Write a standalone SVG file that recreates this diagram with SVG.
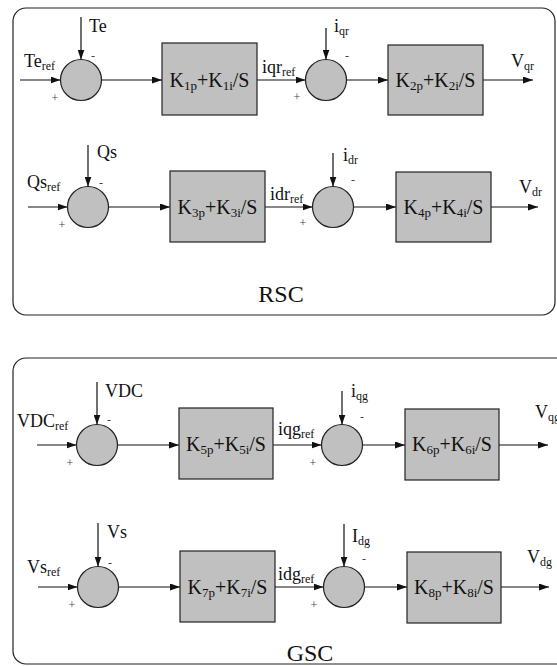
<svg xmlns="http://www.w3.org/2000/svg" width="557" height="666" viewBox="0 0 557 666" font-family="'Liberation Serif', 'DejaVu Serif', serif">
<style>
.frame{fill:none;stroke:#222;stroke-width:1.2}
.blk{fill:#c0c0c0;stroke:#222;stroke-width:1.2}
.sum{fill:#c0c0c0;stroke:#222;stroke-width:1.2}
.wire{fill:none;stroke:#111;stroke-width:1.2;marker-end:url(#ah)}
text{font-family:'Liberation Serif','DejaVu Serif',serif;fill:#111}
.bt{font-size:20px;text-anchor:middle}
.lb{font-size:18px}
.sub{font-size:12px}
.bsub{font-size:13px}
.sg{font-size:12px;fill:#444;text-anchor:middle}
.title{font-size:24px;text-anchor:middle}
</style>
<defs>
<marker id="ah" markerUnits="userSpaceOnUse" markerWidth="10" markerHeight="7" refX="10" refY="3.5" orient="auto">
<path d="M0,0 L10,3.5 L0,7 z" fill="#111"/>
</marker>
</defs>

<g id="rsc-frame">
<rect class="frame" x="13" y="8" width="542" height="307" rx="13"/>
<text class="title" x="281" y="302">RSC</text>
</g>
<g id="gsc-frame">
<rect class="frame" x="13" y="358" width="580" height="306" rx="13"/>
<text class="title" x="310" y="661">GSC</text>
</g>

<g id="connectors">
<path class="wire" d="M20,80 H60.5"/>
<path class="wire" d="M81,17 V59.5"/>
<path class="wire" d="M101.5,80 H162"/>
<path class="wire" d="M257,80 H305.5"/>
<path class="wire" d="M326,28 V59.5"/>
<path class="wire" d="M346.5,80 H388"/>
<path class="wire" d="M483,80 H533"/>

<path class="wire" d="M28,207 H67.5"/>
<path class="wire" d="M88,145 V186.5"/>
<path class="wire" d="M108.5,207 H170"/>
<path class="wire" d="M265,207 H312.5"/>
<path class="wire" d="M333,153 V186.5"/>
<path class="wire" d="M353.5,207 H396"/>
<path class="wire" d="M491,207 H538"/>

<path class="wire" d="M37,445 H76.5"/>
<path class="wire" d="M97,382 V424.5"/>
<path class="wire" d="M117.5,445 H179"/>
<path class="wire" d="M273,445 H321.5"/>
<path class="wire" d="M342,391 V424.5"/>
<path class="wire" d="M362.5,445 H405"/>
<path class="wire" d="M499,445 H548"/>

<path class="wire" d="M38,587 H77.5"/>
<path class="wire" d="M98,523 V566.5"/>
<path class="wire" d="M118.5,587 H180"/>
<path class="wire" d="M275,587 H323.5"/>
<path class="wire" d="M344,524 V566.5"/>
<path class="wire" d="M364.5,587 H407"/>
<path class="wire" d="M501,587 H549"/>
</g>

<g id="sum1">
<circle class="sum" cx="81" cy="80" r="20.5"/>
<text class="sg" x="55" y="102">+</text><text class="sg" x="93" y="60">-</text>
<text class="lb" x="89" y="32">Te</text>
<text class="lb" x="24" y="67">Te<tspan class="sub" dy="3">ref</tspan></text>
</g>
<g id="pi1">
<rect class="blk" x="162" y="43" width="95" height="72"/>
<text class="bt" x="209.5" y="87">K<tspan class="bsub" dy="3">1p</tspan><tspan dy="-3">+K</tspan><tspan class="bsub" dy="3">1i</tspan><tspan dy="-3">/S</tspan></text>
</g>
<g id="sum2">
<circle class="sum" cx="326" cy="80" r="20.5"/>
<text class="sg" x="297" y="101">+</text><text class="sg" x="347" y="60">-</text>
<text class="lb" x="334" y="32">i<tspan class="sub" dy="3">qr</tspan></text>
<text class="lb" x="262" y="73">iqr<tspan class="sub" dy="3">ref</tspan></text>
</g>
<g id="pi2">
<rect class="blk" x="388" y="45" width="95" height="70"/>
<text class="bt" x="435.5" y="87">K<tspan class="bsub" dy="3">2p</tspan><tspan dy="-3">+K</tspan><tspan class="bsub" dy="3">2i</tspan><tspan dy="-3">/S</tspan></text>
<text class="lb" x="511" y="67">V<tspan class="sub" dy="3">qr</tspan></text>
</g>

<g id="sum3">
<circle class="sum" cx="88" cy="207" r="20.5"/>
<text class="sg" x="62" y="229">+</text><text class="sg" x="101" y="187">-</text>
<text class="lb" x="97" y="158">Qs</text>
<text class="lb" x="27" y="188">Qs<tspan class="sub" dy="3">ref</tspan></text>
</g>
<g id="pi3">
<rect class="blk" x="170" y="171" width="95" height="71"/>
<text class="bt" x="217.5" y="214">K<tspan class="bsub" dy="3">3p</tspan><tspan dy="-3">+K</tspan><tspan class="bsub" dy="3">3i</tspan><tspan dy="-3">/S</tspan></text>
</g>
<g id="sum4">
<circle class="sum" cx="333" cy="207" r="20.5"/>
<text class="sg" x="303" y="227">+</text><text class="sg" x="353" y="184">-</text>
<text class="lb" x="343" y="161">i<tspan class="sub" dy="3">dr</tspan></text>
<text class="lb" x="270" y="200">idr<tspan class="sub" dy="3">ref</tspan></text>
</g>
<g id="pi4">
<rect class="blk" x="396" y="172" width="95" height="70"/>
<text class="bt" x="443.5" y="214">K<tspan class="bsub" dy="3">4p</tspan><tspan dy="-3">+K</tspan><tspan class="bsub" dy="3">4i</tspan><tspan dy="-3">/S</tspan></text>
<text class="lb" x="519" y="193">V<tspan class="sub" dy="3">dr</tspan></text>
</g>

<g id="sum5">
<circle class="sum" cx="97" cy="445" r="20.5"/>
<text class="sg" x="70" y="467">+</text><text class="sg" x="109" y="424">-</text>
<text class="lb" x="105" y="397">VDC</text>
<text class="lb" x="17" y="427">VDC<tspan class="sub" dy="3">ref</tspan></text>
</g>
<g id="pi5">
<rect class="blk" x="179" y="408" width="94" height="71"/>
<text class="bt" x="226" y="451">K<tspan class="bsub" dy="3">5p</tspan><tspan dy="-3">+K</tspan><tspan class="bsub" dy="3">5i</tspan><tspan dy="-3">/S</tspan></text>
</g>
<g id="sum6">
<circle class="sum" cx="342" cy="445" r="20.5"/>
<text class="sg" x="313" y="467">+</text><text class="sg" x="362" y="421">-</text>
<text class="lb" x="351" y="397">i<tspan class="sub" dy="3">qg</tspan></text>
<text class="lb" x="278" y="435">iqg<tspan class="sub" dy="3">ref</tspan></text>
</g>
<g id="pi6">
<rect class="blk" x="405" y="409" width="94" height="71"/>
<text class="bt" x="452" y="451">K<tspan class="bsub" dy="3">6p</tspan><tspan dy="-3">+K</tspan><tspan class="bsub" dy="3">6i</tspan><tspan dy="-3">/S</tspan></text>
<text class="lb" x="535" y="418">V<tspan class="sub" dy="3">qg</tspan></text>
</g>

<g id="sum7">
<circle class="sum" cx="98" cy="587" r="20.5"/>
<text class="sg" x="72" y="609">+</text><text class="sg" x="110" y="567">-</text>
<text class="lb" x="107" y="538">Vs</text>
<text class="lb" x="27" y="573">Vs<tspan class="sub" dy="3">ref</tspan></text>
</g>
<g id="pi7">
<rect class="blk" x="180" y="551" width="95" height="71"/>
<text class="bt" x="227.5" y="594">K<tspan class="bsub" dy="3">7p</tspan><tspan dy="-3">+K</tspan><tspan class="bsub" dy="3">7i</tspan><tspan dy="-3">/S</tspan></text>
</g>
<g id="sum8">
<circle class="sum" cx="344" cy="587" r="20.5"/>
<text class="sg" x="314" y="609">+</text><text class="sg" x="364" y="563">-</text>
<text class="lb" x="352" y="542">I<tspan class="sub" dy="3">dg</tspan></text>
<text class="lb" x="278" y="580">idg<tspan class="sub" dy="3">ref</tspan></text>
</g>
<g id="pi8">
<rect class="blk" x="407" y="552" width="94" height="71"/>
<text class="bt" x="454" y="594">K<tspan class="bsub" dy="3">8p</tspan><tspan dy="-3">+K</tspan><tspan class="bsub" dy="3">8i</tspan><tspan dy="-3">/S</tspan></text>
<text class="lb" x="527" y="563">V<tspan class="sub" dy="3">dg</tspan></text>
</g>
</svg>
